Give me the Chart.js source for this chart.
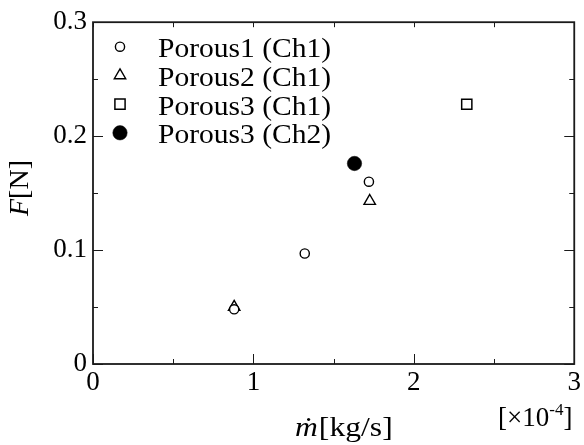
<!DOCTYPE html>
<html><head><meta charset="utf-8">
<script src="https://cdn.jsdelivr.net/npm/chart.js@4.4.1/dist/chart.umd.min.js"></script>
<style>html,body{margin:0;padding:0;background:#fff}#wrap{width:584px;height:445px;position:relative}</style>
</head><body><div id="wrap"><canvas id="c" width="584" height="445"></canvas></div>
<script>
// ---- data (x in units of 1e-4 kg/s, y in N) ----
const seriesLabels = ['Porous1 (Ch1)', 'Porous2 (Ch1)', 'Porous3 (Ch1)', 'Porous3 (Ch2)'];
const porous1Ch1X = [0.88, 1.32, 1.72];
const porous1Ch1Y = [0.048, 0.097, 0.160];
const porous2Ch1X = [0.88, 1.725];
const porous2Ch1Y = [0.050, 0.143];
const porous3Ch1X = [2.33];
const porous3Ch1Y = [0.228];
const porous3Ch2X = [1.63];
const porous3Ch2Y = [0.176];
const xTickLabels = [0, 1, 2, 3];
const yTickLabels = [0, 0.1, 0.2, 0.3];
const xTitleItalic = 'ṁ';
const xTitleRest = '[kg/s]';
const yTitleItalic = 'F';
const yTitleRest = '[N]';
const xScaleNote = ['[×10', '-4', ']'];

const FONT = '"Liberation Serif","Times New Roman",serif';
const pts = (xs, ys) => xs.map((x, i) => ({x: x, y: ys[i]}));
const near = (v, arr) => arr.some(a => Math.abs(a - v) < 1e-6);

const datasets = [
  {label: seriesLabels[0], data: pts(porous1Ch1X, porous1Ch1Y), pointStyle: 'circle', pointRadius: 4.6,
   backgroundColor: '#fff', borderColor: '#000', borderWidth: 1.4},
  {label: seriesLabels[1], data: pts(porous2Ch1X, porous2Ch1Y), pointStyle: 'triangle', pointRadius: 6.6,
   backgroundColor: 'rgba(255,255,255,0)', borderColor: '#000', borderWidth: 1.4},
  {label: seriesLabels[2], data: pts(porous3Ch1X, porous3Ch1Y), pointStyle: 'rect', pointRadius: 7.2,
   backgroundColor: '#fff', borderColor: '#000', borderWidth: 1.5},
  {label: seriesLabels[3], data: pts(porous3Ch2X, porous3Ch2Y), pointStyle: 'circle', pointRadius: 7.2,
   backgroundColor: '#000', borderColor: '#000', borderWidth: 0.5}
];

const framePlugin = {
  id: 'frameTicks',
  afterDraw(chart) {
    const ctx = chart.ctx, a = chart.chartArea;
    const xs = chart.scales.x, ys = chart.scales.y;
    ctx.save();
    ctx.strokeStyle = '#1a1a1a';
    ctx.lineWidth = 1;
    ctx.beginPath();
    xs.ticks.forEach(t => {
      const px = Math.round(xs.getPixelForValue(t.value)) + 0.5;
      const major = near(t.value, xTickLabels);
      const lb = major ? 10 : 5;
      ctx.moveTo(px, a.bottom); ctx.lineTo(px, a.bottom - lb);
      ctx.moveTo(px, a.top); ctx.lineTo(px, a.top + 5);
    });
    ys.ticks.forEach(t => {
      const py = Math.round(ys.getPixelForValue(t.value)) + 0.5;
      const major = near(t.value, yTickLabels);
      const l = major ? 10 : 5;
      ctx.moveTo(a.left, py); ctx.lineTo(a.left + l, py);
      ctx.moveTo(a.right, py); ctx.lineTo(a.right - l, py);
    });
    ctx.stroke();
    ctx.lineWidth = 1.8;
    ctx.strokeRect(a.left, a.top, a.right - a.left, a.bottom - a.top);
    ctx.restore();
  }
};

function drawScaled(ctx, text, x, y, sx) {
  ctx.save();
  ctx.translate(x, y);
  ctx.scale(sx, 1);
  ctx.fillText(text, 0, 0);
  ctx.restore();
  return ctx.measureText(text).width * sx;
}

const legendPlugin = {
  id: 'innerLegend',
  afterDraw(chart) {
    const ctx = chart.ctx, a = chart.chartArea;
    ctx.save();
    chart.data.datasets.forEach((ds, i) => {
      const cy = a.top + 24.5 + i * 28.7;
      const cx = a.left + 27;
      ctx.fillStyle = ds.backgroundColor;
      ctx.strokeStyle = ds.borderColor;
      ctx.lineWidth = ds.borderWidth;
      Chart.helpers.drawPoint(ctx, {pointStyle: ds.pointStyle, radius: ds.pointRadius, rotation: 0, borderWidth: ds.borderWidth}, cx, cy);
      ctx.fillStyle = '#000';
      ctx.font = '28px ' + FONT;
      ctx.textAlign = 'left';
      ctx.textBaseline = 'alphabetic';
      drawScaled(ctx, ds.label, a.left + 65, cy + 10.5, 1.055);
    });
    ctx.restore();
  }
};

const titlePlugin = {
  id: 'axisTitles',
  afterDraw(chart) {
    const ctx = chart.ctx;
    ctx.save();
    ctx.fillStyle = '#000';
    ctx.textBaseline = 'alphabetic';
    ctx.textAlign = 'left';
    // x title
    let x = 295, y = 436;
    ctx.font = 'italic 28px ' + FONT;
    x += drawScaled(ctx, xTitleItalic, x, y, 1.13) + 1;
    ctx.font = '28px ' + FONT;
    drawScaled(ctx, xTitleRest, x, y, 1.13);
    // scale note
    x = 498; y = 426;
    ctx.font = '27px ' + FONT;
    x += drawScaled(ctx, xScaleNote[0], x, y, 1.0);
    ctx.font = '17px ' + FONT;
    x += drawScaled(ctx, xScaleNote[1], x, y - 11, 1.0);
    ctx.font = '27px ' + FONT;
    drawScaled(ctx, xScaleNote[2], x, y, 1.0);
    // y title (rotated)
    ctx.translate(28, 188);
    ctx.rotate(-Math.PI / 2);
    ctx.font = 'italic 28px ' + FONT;
    const w1 = ctx.measureText(yTitleItalic).width;
    ctx.font = '28px ' + FONT;
    const w2 = ctx.measureText(yTitleRest).width;
    let sx = -(w1 + w2) / 2;
    ctx.font = 'italic 28px ' + FONT;
    ctx.fillText(yTitleItalic, sx, 0);
    ctx.font = '28px ' + FONT;
    ctx.fillText(yTitleRest, sx + w1, 0);
    ctx.restore();
  }
};

new Chart(document.getElementById('c'), {
  type: 'scatter',
  data: {datasets: datasets},
  options: {
    responsive: false,
    animation: false,
    devicePixelRatio: 1,
    layout: {padding: {left: 0, top: 18, right: 6, bottom: 0}},
    plugins: {legend: {display: false}, tooltip: {enabled: false}},
    scales: {
      x: {
        type: 'linear', min: 0, max: 3,
        grid: {display: false, drawTicks: false}, border: {display: false},
        ticks: {stepSize: 0.5, autoSkip: false, maxRotation: 0, padding: 3, color: '#000',
          font: {family: FONT, size: 27},
          callback: v => near(v, xTickLabels) ? String(Math.round(v)) : ''},
        afterFit: s => { s.height = 81; }
      },
      y: {
        type: 'linear', min: 0, max: 0.3,
        grid: {display: false, drawTicks: false}, border: {display: false},
        ticks: {stepSize: 0.05, autoSkip: false, padding: 6, color: '#000',
          font: {family: FONT, size: 27},
          callback: v => near(v, yTickLabels) ? (Math.abs(v) < 1e-9 ? '0' : (Math.round(v * 10) / 10).toFixed(1)) : ''},
        afterFit: s => { s.width = 93; }
      }
    }
  },
  plugins: [framePlugin, legendPlugin, titlePlugin]
});
</script>
</body></html>
